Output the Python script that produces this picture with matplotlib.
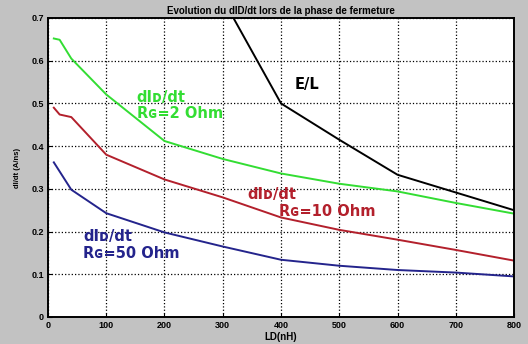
import numpy as np
import matplotlib
matplotlib.use("Agg")
import matplotlib.pyplot as plt

# values
ld_green = [10, 20, 40, 100, 200, 300, 400, 500, 600, 700, 800]
rg2 = [0.652, 0.649, 0.605, 0.521, 0.412, 0.37, 0.336, 0.312, 0.294, 0.267, 0.242]

ld_red = [10, 20, 40, 100, 200, 300, 400, 500, 600, 700, 800]
rg10 = [0.49, 0.474, 0.468, 0.38, 0.322, 0.28, 0.233, 0.204, 0.181, 0.157, 0.132]

ld_blue = [10, 40, 100, 200, 300, 400, 500, 600, 700, 800]
rg50 = [0.362, 0.298, 0.243, 0.198, 0.165, 0.134, 0.12, 0.110, 0.104, 0.095]

ld_el = [300, 400, 500, 600, 800]
e_over_l = [0.745, 0.5, 0.415, 0.333, 0.25]

xticks = [0, 100, 200, 300, 400, 500, 600, 700, 800]
yticks = [0, 0.1, 0.2, 0.3, 0.4, 0.5, 0.6, 0.7]

bg = "#c2c2c2"
fig = plt.figure(figsize=(5.28, 3.44), dpi=100, facecolor=bg)
ax = fig.add_axes([0.0909, 0.0785, 0.8826, 0.8692])

ax.plot(ld_green, rg2, color="#33dd33", lw=1.4)
ax.plot(ld_red, rg10, color="#b3202c", lw=1.4)
ax.plot(ld_blue, rg50, color="#24248c", lw=1.4)
ax.plot(ld_el, e_over_l, color="black", lw=1.4)

ax.set_xlim(0, 800)
ax.set_ylim(0, 0.7)
ax.set_xticks(xticks)
ax.set_yticks(yticks)
ax.set_xticklabels([str(v) for v in xticks])
ax.set_yticklabels(["0"] + ["%.1f" % v for v in yticks[1:]])
ax.tick_params(direction="in", length=3, width=0.8, labelsize=6.5, pad=3)
for lab in ax.get_xticklabels() + ax.get_yticklabels():
    lab.set_fontweight("bold")
    lab.set_family("Liberation Sans")
ax.grid(True, color="black", linestyle=":", lw=0.9)
for s in ax.spines.values():
    s.set_linewidth(1.4)

ax.set_title("Evolution du dID/dt lors de la phase de fermeture", fontsize=7,
             fontweight="bold", family="Liberation Sans", pad=3)
ax.set_xlabel("LD(nH)", fontsize=7, fontweight="bold", family="Liberation Sans", labelpad=1)
ax.set_ylabel("dI/dt (A/ns)", fontsize=5.5, fontweight="bold", family="Liberation Sans", labelpad=7)

tk = dict(fontsize=10.5, fontweight="bold", family="DejaVu Sans",
          va="top", ha="left")
did = "dI\u1d05/dt"
ax.text(152, 0.532, did, color="#33dd33", **tk)
ax.text(152, 0.494, "R\u0262=2 Ohm", color="#33dd33", **tk)
ax.text(342, 0.304, did, color="#b3202c", **tk)
ax.text(397, 0.264, "R\u0262=10 Ohm", color="#b3202c", **tk)
ax.text(60, 0.205, did, color="#24248c", **tk)
ax.text(60, 0.167, "R\u0262=50 Ohm", color="#24248c", **tk)
ax.text(423, 0.561, "E/L", color="black", **tk)

fig.savefig("out.png", dpi=100, facecolor=bg)
